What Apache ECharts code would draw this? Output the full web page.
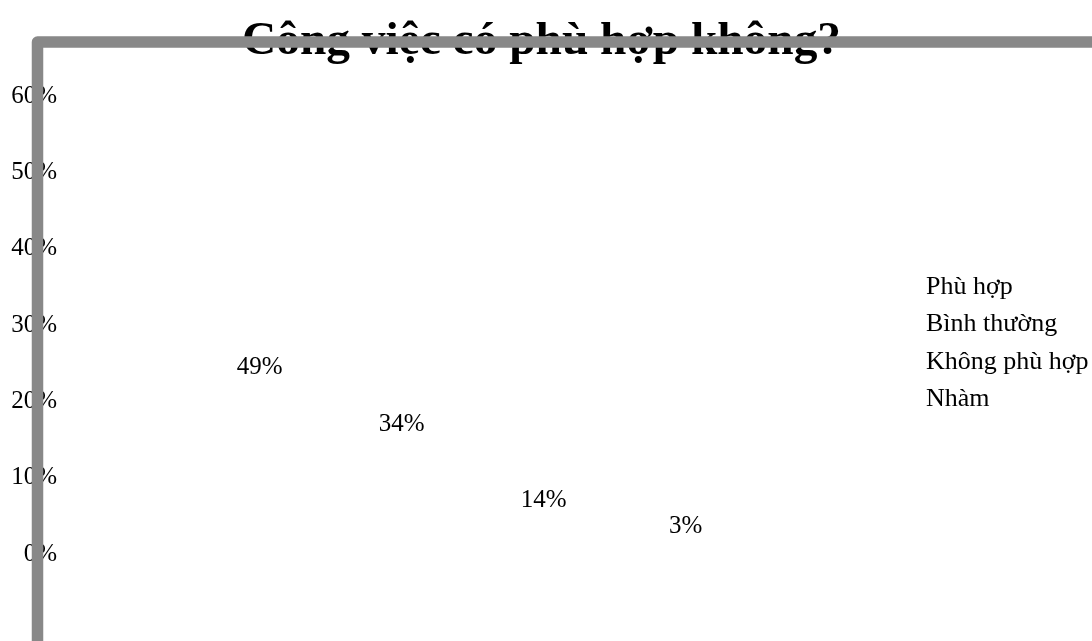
<!DOCTYPE html>
<html>
<head>
<meta charset="utf-8">
<script src="https://cdn.jsdelivr.net/npm/echarts@6/dist/echarts.min.js"></script>
<style>html,body{margin:0;padding:0;background:#fff;}#c{width:1092px;height:641px;}</style>
</head>
<body>
<div id="c"></div>
<script>
const titleText = 'Công việc có phù hợp không?';
const categories = [''];
const seriesNames = ['Phù hợp', 'Bình thường', 'Không phù hợp', 'Nhàm'];
const seriesValues = [49, 34, 14, 3];
const yTicks = { min: 0, max: 60, interval: 10 };

const FONT = "'Liberation Serif', 'Times New Roman', serif";
const chart = echarts.init(document.getElementById('c'));
chart.setOption({
  animation: false,
  backgroundColor: '#ffffff',
  title: {
    text: titleText,
    left: 237,
    top: 13,
    textStyle: { fontFamily: FONT, fontSize: 47.4, fontWeight: 'bold', color: '#000' }
  },
  legend: {
    orient: 'vertical',
    left: 891,
    top: 269,
    itemGap: 11.5,
    itemWidth: 25,
    data: seriesNames,
    selectedMode: false,
    textStyle: { fontFamily: FONT, fontSize: 26, color: '#000' }
  },
  grid: { left: 65, right: 211.5, top: 96, bottom: 87, containLabel: false },
  xAxis: { type: 'category', data: categories, show: false },
  yAxis: {
    type: 'value',
    min: yTicks.min, max: yTicks.max, interval: yTicks.interval,
    axisLine: { show: false }, axisTick: { show: false }, splitLine: { show: false },
    axisLabel: { formatter: '{value}%', margin: 8, fontFamily: FONT, fontSize: 25, color: '#000' }
  },
  graphic: [{
    type: 'rect', z: 100,
    shape: { x: 37.5, y: 42, width: 3000, height: 3000 },
    style: { fill: 'none', stroke: '#888888', lineWidth: 11.5, lineJoin: 'round' }
  }],
  series: seriesNames.map((name, i) => ({
    name: name,
    type: 'bar',
    barWidth: 100,
    barGap: '42%',
    barMinHeight: 56,
    itemStyle: { color: 'transparent' },
    label: {
      show: true, position: 'inside',
      formatter: '{c}%',
      fontFamily: FONT, fontSize: 25, color: '#000'
    },
    data: [seriesValues[i]]
  }))
});
</script>
</body>
</html>
